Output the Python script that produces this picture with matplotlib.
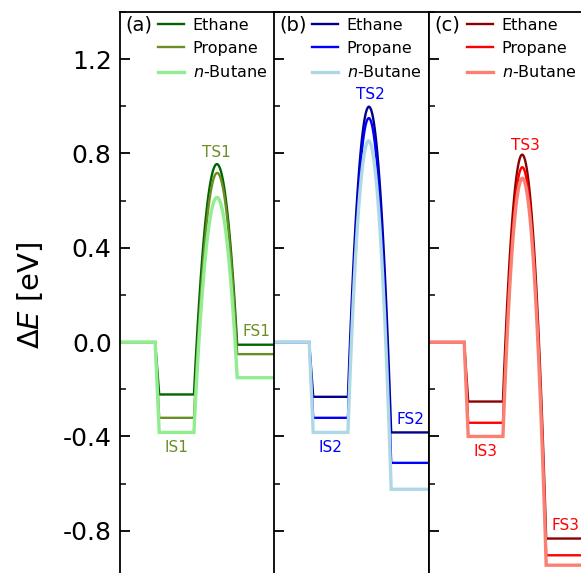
import numpy as np
import matplotlib
matplotlib.use('Agg')
import matplotlib.pyplot as plt
from matplotlib.ticker import MultipleLocator, FormatStrFormatter

plt.rcParams['axes.unicode_minus'] = False

# energies (eV) relative to the gas-phase reference, per reaction step
molecules = ['Ethane', 'Propane', r'$n$-Butane']
panel_tags = ['(a)', '(b)', '(c)']
state_names = [('IS1', 'TS1', 'FS1'), ('IS2', 'TS2', 'FS2'), ('IS3', 'TS3', 'FS3')]

is_a = [-0.222, -0.321, -0.383]
ts_a = [0.752, 0.713, 0.610]
fs_a = [-0.011, -0.051, -0.151]

is_b = [-0.232, -0.321, -0.383]
ts_b = [0.997, 0.948, 0.850]
fs_b = [-0.383, -0.512, -0.624]

is_c = [-0.252, -0.342, -0.400]
ts_c = [0.778, 0.726, 0.680]
fs_c = [-0.833, -0.904, -0.946]

energies = [(is_a, ts_a, fs_a), (is_b, ts_b, fs_b), (is_c, ts_c, fs_c)]

colors = [['darkgreen', 'olivedrab', 'lightgreen'],
          ['darkblue', 'blue', 'lightblue'],
          ['darkred', 'red', 'salmon']]
widths = [1.7, 1.7, 2.4]

# horizontal layout of one profile (axis units 0..1)
x_drop0, x_drop1 = 0.227, 0.253
x_is_end, x_ts, x_fs_start = 0.477, 0.617, 0.756


def profile(e_is, e_ts, e_fs):
    # flat reference, drop into IS, quadratic barrier through TS, flat FS
    coef = np.polyfit([x_is_end, x_ts, x_fs_start], [e_is, e_ts, e_fs], 2)
    xc = np.linspace(x_is_end, x_fs_start, 120)
    x = np.concatenate([[0.0, x_drop0, x_drop1], xc, [1.0]])
    y = np.concatenate([[0.0, 0.0, e_is], np.polyval(coef, xc), [e_fs]])
    return x, y


W, H = 581, 573
fig = plt.figure(figsize=(W / 100, H / 100), dpi=100)

ymin, ymax = -1.0, 1.4
px_per_ev = 235.8
top_px = 12
ax_h = (ymax - ymin) * px_per_ev
lefts = [120, 274, 429]
panel_w = 155

for k in range(3):
    ax = fig.add_axes([lefts[k] / W, (H - top_px - ax_h) / H, panel_w / W, ax_h / H])
    e_is, e_ts, e_fs = energies[k]
    for i in range(3):
        x, y = profile(e_is[i], e_ts[i], e_fs[i])
        ax.plot(x, y, color=colors[k][i], lw=widths[i], label=molecules[i],
                solid_joinstyle='miter')

    lab_col = colors[k][1]
    ax.text((x_drop1 + x_is_end) / 2, min(e_is) - 0.03, state_names[k][0],
            color=lab_col, fontsize=11, ha='center', va='top')
    ax.text(0.623, max(e_ts) + 0.035, state_names[k][1],
            color=lab_col, fontsize=11, ha='center', va='baseline')
    ax.text((x_fs_start + 1.0) / 2, max(e_fs) + 0.035, state_names[k][2],
            color=lab_col, fontsize=11, ha='center', va='baseline')

    ax.text(0.032, 0.977, panel_tags[k], transform=ax.transAxes,
            fontsize=14, ha='left', va='center')
    ax.legend(loc='upper left', bbox_to_anchor=(0.247, 0.99), frameon=False,
              fontsize=11.5, handlelength=1.6, handletextpad=0.55,
              labelspacing=0.52, borderpad=0, borderaxespad=0)

    ax.set_xlim(0, 1)
    ax.set_ylim(ymin, ymax)
    ax.set_xticks([])
    ax.yaxis.set_major_locator(MultipleLocator(0.4))
    ax.yaxis.set_minor_locator(MultipleLocator(0.2))
    ax.yaxis.set_major_formatter(FormatStrFormatter('%.1f'))
    ax.tick_params(axis='y', which='major', direction='in', length=7, width=1.3,
                   labelsize=18, pad=6)
    ax.tick_params(axis='y', which='minor', direction='in', length=4.3, width=1.1)
    for s in ax.spines.values():
        s.set_linewidth(1.3)
    ax.spines['bottom'].set_visible(False)
    if k == 0:
        ax.set_ylabel(r'$\Delta E$ [eV]', fontsize=21, labelpad=12.5)
    else:
        ax.tick_params(axis='y', labelleft=False)

fig.savefig('out.png', dpi=100)
